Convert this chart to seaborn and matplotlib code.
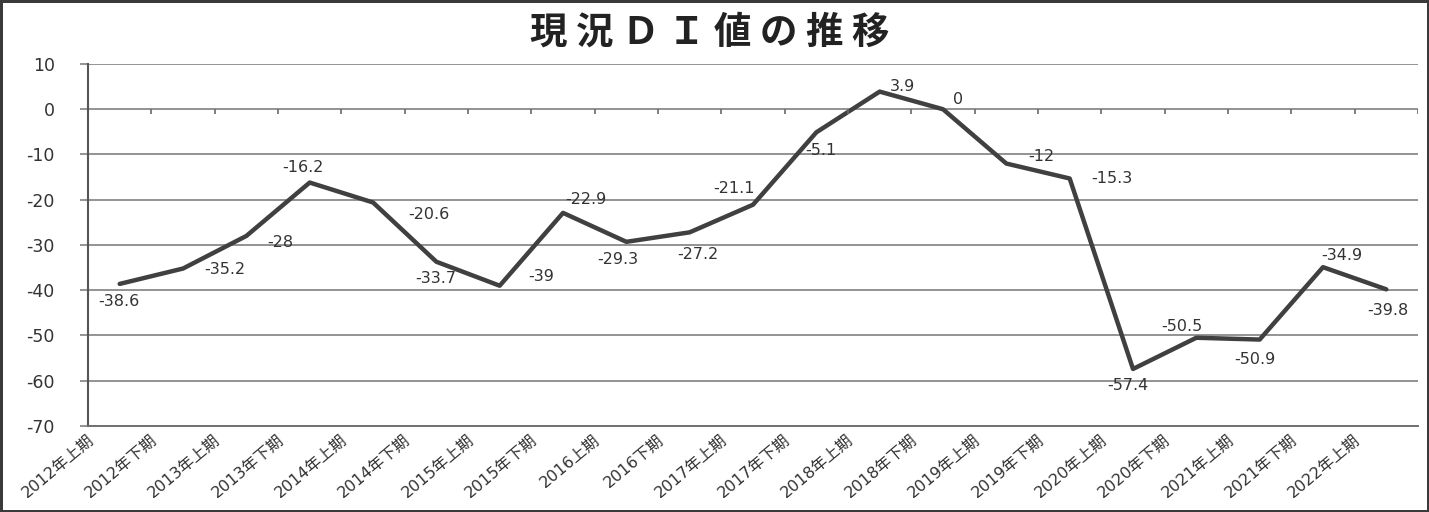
import numpy as np
import pandas as pd
import matplotlib
matplotlib.use("Agg")
import matplotlib.pyplot as plt
import matplotlib.transforms as mtransforms
import seaborn as sns

# data
periods = [
    "2012年上期", "2012年下期", "2013年上期", "2013年下期", "2014年上期",
    "2014年下期", "2015年上期", "2015年下期", "2016上期", "2016下期",
    "2017年上期", "2017年下期", "2018年上期", "2018年下期", "2019年上期",
    "2019年下期", "2020年上期", "2020年下期", "2021年上期", "2021年下期",
    "2022年上期",
]
di_values = [
    -38.6, -35.2, -28, -16.2, -20.6, -33.7, -39, -22.9, -29.3, -27.2,
    -21.1, -5.1, 3.9, 0, -12, -15.3, -57.4, -50.5, -50.9, -34.9, -39.8,
]
title = "現 況 Ｄ Ｉ 値 の 推 移"

# hand placement of each data label (pixels: right, down)
label_offsets = [
    (-1, 18), (42, 1), (34, 7), (-7, -15), (56, 12), (-1, 17), (42, -9),
    (23, -13), (-9, 18), (8, 22), (-19, -16), (5, 18), (23, -5), (15, -10),
    (35, -7), (42, 0), (-5, 17), (-14, -11), (-5, 20), (19, -12), (2, 21),
]

sns.set_theme(style="white")
plt.rcParams["font.family"] = ["DejaVu Sans", "Noto Sans CJK JP"]
plt.rcParams["axes.unicode_minus"] = False

df = pd.DataFrame({"period": periods, "di": di_values})
n = len(periods)

fig = plt.figure(figsize=(14.29, 5.12), dpi=100, edgecolor="#3a3a3a", linewidth=2.5)
ax = fig.add_axes([0.0616, 0.168, 0.9307, 0.707])

sns.lineplot(data=df, x="period", y="di", color="#404040", linewidth=3.2,
             sort=False, ax=ax)

ax.set_xlim(-0.5, n - 0.5)
ax.set_ylim(-70, 10)
ax.set_yticks(range(-70, 11, 10))
ax.yaxis.grid(True, color="#808080", linewidth=1.2)
ax.xaxis.grid(False)
ax.set_axisbelow(True)
ax.set_xlabel("")
ax.set_ylabel("")

for side in ["top", "right"]:
    ax.spines[side].set_visible(False)
ax.spines["left"].set_color("#555555")
ax.spines["left"].set_linewidth(1.5)
ax.spines["bottom"].set_color("#707070")
ax.spines["bottom"].set_linewidth(1.4)

# small category ticks on the zero line
ax.vlines(np.arange(n) + 0.5, -1.1, 0, color="#6a6a6a", linewidth=1.2)

ax.tick_params(axis="y", length=6, width=1.2, color="#808080", pad=18,
               labelsize=12.5, labelcolor="#333333", left=True)
ax.set_xticks(range(n))
ax.set_xticklabels(periods, rotation=40, ha="right", va="center",
                   rotation_mode="anchor", fontsize=11.5, color="#333333")
ax.tick_params(axis="x", length=0, pad=0)
shift = mtransforms.ScaledTranslation(-28 / 100, -12 / 100, fig.dpi_scale_trans)
for lab in ax.get_xticklabels():
    lab.set_transform(lab.get_transform() + shift)

for i, v in enumerate(di_values):
    dx, dy = label_offsets[i]
    txt = f"{v:g}"
    ax.annotate(txt, (i, v), xytext=(dx, -dy), textcoords="offset pixels",
                ha="center", va="center", fontsize=11.5, color="#333333")

fig.text(0.497, 1 - 32 / 512, title, ha="center", va="center",
         fontsize=27, fontweight="bold", family=["Noto Sans CJK JP"],
         color="#222222")

fig.savefig("out.png", dpi=100, edgecolor=fig.get_edgecolor())
